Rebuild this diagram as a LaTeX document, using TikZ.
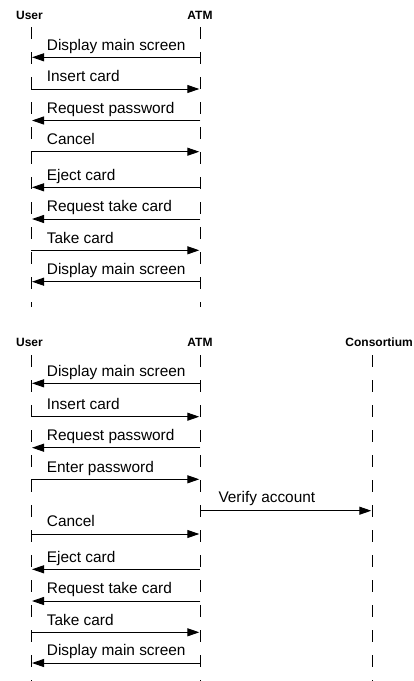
\documentclass[tikz,border=0pt]{standalone}
\usepackage{fontspec}
\setmainfont{Liberation Sans}
\usetikzlibrary{arrows.meta,calc}
\begin{document}
\begin{tikzpicture}[x=1pt,y=-1pt,
  lifeline/.style={line width=1pt, dash pattern=on 12pt off 13pt},
  msg/.style={line width=1pt, -{Triangle[length=12pt,width=8pt]}, shorten >=1pt},
  lbl/.style={anchor=base west, inner sep=0pt, font=\fontsize{15.4}{18}\selectfont},
  head/.style={anchor=base, inner sep=0pt, font=\fontsize{12}{14}\selectfont\bfseries}]
\useasboundingbox (0,0) rectangle (414,681);

% ---------- first scenario: user cancels before entering password ----------
\coordinate (u1) at (31,27.3);
\coordinate (a1) at (200.3,27.3);
\coordinate (u1e) at (31,307);
\coordinate (a1e) at (200.3,307);
\node[head] (hu1) at (29.5,19) {User};
\node[head] (ha1) at (200,19) {ATM};
\draw[lifeline] (u1) -- (u1e);
\draw[lifeline] (a1) -- (a1e);

\coordinate (t1) at (0,57.3);
\coordinate (t2) at (0,89);
\coordinate (t3) at (0,120.5);
\coordinate (t4) at (0,151.7);
\coordinate (t5) at (0,187.3);
\coordinate (t6) at (0,219);
\coordinate (t7) at (0,250.3);
\coordinate (t8) at (0,281.7);

\draw[msg] (a1 |- t1) -- (u1 |- t1);
\node[lbl] (m1) at ($(u1 |- t1)+(15.7,-7.3)$) {Display main screen};
\draw[msg] (u1 |- t2) -- (a1 |- t2);
\node[lbl] (m2) at ($(u1 |- t2)+(15.7,-7.3)$) {Insert card};
\draw[msg] (a1 |- t3) -- (u1 |- t3);
\node[lbl] (m3) at ($(u1 |- t3)+(15.7,-7.3)$) {Request password};
\draw[msg] (u1 |- t4) -- (a1 |- t4);
\node[lbl] (m4) at ($(u1 |- t4)+(15.7,-7.3)$) {Cancel};
\draw[msg] (a1 |- t5) -- (u1 |- t5);
\node[lbl] (m5) at ($(u1 |- t5)+(15.7,-7.3)$) {Eject card};
\draw[msg] (a1 |- t6) -- (u1 |- t6);
\node[lbl] (m6) at ($(u1 |- t6)+(15.7,-7.3)$) {Request take card};
\draw[msg] (u1 |- t7) -- (a1 |- t7);
\node[lbl] (m7) at ($(u1 |- t7)+(15.7,-7.3)$) {Take card};
\draw[msg] (a1 |- t8) -- (u1 |- t8);
\node[lbl] (m8) at ($(u1 |- t8)+(15.7,-7.3)$) {Display main screen};

% ---------- second scenario: user cancels during account verification ----------
\coordinate (u2) at (31,355);
\coordinate (a2) at (200.3,355);
\coordinate (c2) at (372.3,355);
\coordinate (u2e) at (31,681);
\coordinate (a2e) at (200.3,681);
\coordinate (c2e) at (372.3,681);
\node[head] (hu2) at (29.5,346.7) {User};
\node[head] (ha2) at (200,346.7) {ATM};
\node[head, anchor=base east] (hc2) at (413,346.7) {Consortium};
\draw[lifeline] (u2) -- (u2e);
\draw[lifeline] (a2) -- (a2e);
\draw[lifeline] (c2) -- (c2e);

\coordinate (b1) at (0,383.3);
\coordinate (b2) at (0,416.7);
\coordinate (b3) at (0,447.7);
\coordinate (b4) at (0,479.3);
\coordinate (b5) at (0,510.7);
\coordinate (b6) at (0,534);
\coordinate (b7) at (0,569.3);
\coordinate (b8) at (0,601);
\coordinate (b9) at (0,632.3);
\coordinate (b10) at (0,663);

\draw[msg] (a2 |- b1) -- (u2 |- b1);
\node[lbl] (n1) at ($(u2 |- b1)+(15.7,-7.3)$) {Display main screen};
\draw[msg] (u2 |- b2) -- (a2 |- b2);
\node[lbl] (n2) at ($(u2 |- b2)+(15.7,-7.3)$) {Insert card};
\draw[msg] (a2 |- b3) -- (u2 |- b3);
\node[lbl] (n3) at ($(u2 |- b3)+(15.7,-7.3)$) {Request password};
\draw[msg] (u2 |- b4) -- (a2 |- b4);
\node[lbl] (n4) at ($(u2 |- b4)+(15.7,-7.3)$) {Enter password};
\draw[msg] (a2 |- b5) -- (c2 |- b5);
\node[lbl] (n5) at ($(a2 |- b5)+(18,-8.2)$) {Verify account};
\draw[msg] (u2 |- b6) -- (a2 |- b6);
\node[lbl] (n6) at ($(u2 |- b6)+(15.7,-7.3)$) {Cancel};
\draw[msg] (a2 |- b7) -- (u2 |- b7);
\node[lbl] (n7) at ($(u2 |- b7)+(15.7,-7.3)$) {Eject card};
\draw[msg] (a2 |- b8) -- (u2 |- b8);
\node[lbl] (n8) at ($(u2 |- b8)+(15.7,-7.3)$) {Request take card};
\draw[msg] (u2 |- b9) -- (a2 |- b9);
\node[lbl] (n9) at ($(u2 |- b9)+(15.7,-7.3)$) {Take card};
\draw[msg] (a2 |- b10) -- (u2 |- b10);
\node[lbl] (n10) at ($(u2 |- b10)+(15.7,-7.3)$) {Display main screen};
\end{tikzpicture}
\end{document}
